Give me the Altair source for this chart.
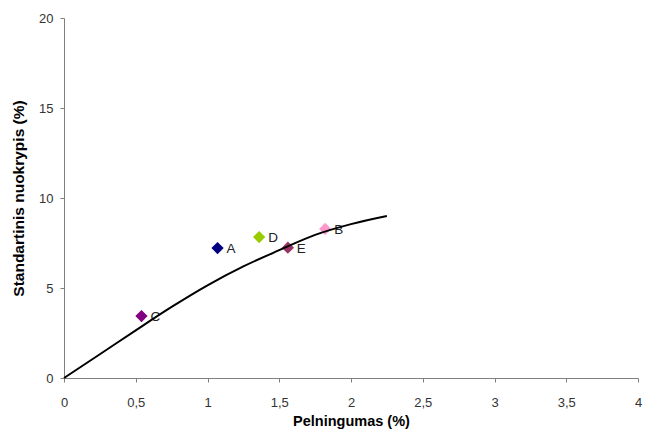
import altair as alt
import pandas as pd

# Data
point_names = ["A", "B", "C", "D", "E"]
point_x = [1.07, 1.82, 0.54, 1.36, 1.56]
point_y = [7.22, 8.28, 3.44, 7.83, 7.24]
point_colors = ["#000080", "#FF99CC", "#800080", "#99CC00", "#993366"]

curve_x = [0, 0.25, 0.5, 0.75, 1.0, 1.25, 1.5, 1.75, 2.0, 2.25]
curve_y = [0, 1.32, 2.65, 3.95, 5.15, 6.2, 7.1, 7.95, 8.55, 9.0]

x_ticks = [0, 0.5, 1, 1.5, 2, 2.5, 3, 3.5, 4]
y_ticks = [0, 5, 10, 15, 20]

pts = pd.DataFrame({"x": point_x, "y": point_y, "name": point_names, "color": point_colors})
crv = pd.DataFrame({"x": curve_x, "y": curve_y})

FONT = "Liberation Sans"

xscale = alt.Scale(domain=[0, 4], nice=False, zero=True)
yscale = alt.Scale(domain=[0, 20], nice=False)

xaxis = alt.Axis(values=x_ticks, title="Pelningumas (%)", grid=False,
                 labelExpr="replace(format(datum.value, '~g'), '.', ',')",
                 labelFont=FONT, labelFontSize=13, labelColor="#333333",
                 labelPadding=14, tickSize=4, tickColor="#808080",
                 domainColor="#808080", titleFont=FONT, titleFontSize=14.5,
                 titleFontWeight="bold", titleColor="#000000", titlePadding=5,
                 labelFlush=False, labelOverlap=False)
yaxis = alt.Axis(values=y_ticks, title="Standartinis nuokrypis (%)", grid=False,
                 labelFont=FONT, labelFontSize=13, labelColor="#333333",
                 labelPadding=7, tickSize=4, tickColor="#808080",
                 domainColor="#808080", titleFont=FONT, titleFontSize=15.5,
                 titleFontWeight="bold", titleColor="#000000", titlePadding=12,
                 labelFlush=False)

points = alt.Chart(pts).mark_point(shape="diamond", filled=True, size=150, opacity=1).encode(
    x=alt.X("x:Q", scale=xscale, axis=xaxis),
    y=alt.Y("y:Q", scale=yscale, axis=yaxis),
    color=alt.Color("color:N", scale=None),
)

labels = alt.Chart(pts).mark_text(align="left", dx=9, dy=1, font=FONT, fontSize=13.5,
                                  color="#222222").encode(
    x=alt.X("x:Q", scale=xscale),
    y=alt.Y("y:Q", scale=yscale),
    text="name:N",
)

line = alt.Chart(crv).mark_line(color="black", strokeWidth=2, interpolate="monotone").encode(
    x=alt.X("x:Q", scale=xscale),
    y=alt.Y("y:Q", scale=yscale),
)

chart = alt.layer(points, labels, line).properties(
    width=574, height=360,
    autosize=alt.AutoSizeParams(type="none"),
    padding={"left": 56, "top": 10, "right": 6, "bottom": 59},
).configure_view(stroke=None)

chart.save("out.html", embed_options={"renderer": "svg", "actions": False})
